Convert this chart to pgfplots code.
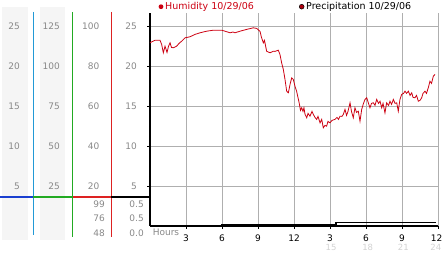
\documentclass[border=0pt]{standalone}
\usepackage{fontspec}
\setmainfont{DejaVu Sans}
\usepackage{pgfplots}
\pgfplotsset{compat=1.18}
\definecolor{hum}{RGB}{204,0,17}
\definecolor{lblgray}{RGB}{136,136,136}
\definecolor{ltgray}{RGB}{210,210,210}
\definecolor{bggray}{RGB}{245,245,245}
\definecolor{gridgray}{RGB}{175,175,175}
\definecolor{tealblue}{RGB}{34,153,214}
\definecolor{bluel}{RGB}{26,63,208}
\definecolor{greenl}{RGB}{34,170,34}
\definecolor{redl}{RGB}{221,34,34}
\begin{document}
\begin{tikzpicture}[x=1pt,y=1pt,font=\fontsize{9}{10}\selectfont]
\useasboundingbox (0,0) rectangle (442,-253);
% left panel backgrounds
\fill[bggray] (2,-7) rectangle (28,-240);
\fill[bggray] (40,-7) rectangle (65,-240);
% vertical panel lines
\draw[tealblue, line width=1pt] (33,-12) -- (33,-235);
\draw[greenl, line width=1pt] (72.7,-12) -- (72.7,-237);
\draw[redl, line width=1pt] (111,-12) -- (111,-237);
% horizontal coloured line
\draw[bluel, line width=2pt] (0,-197) -- (33,-197);
\draw[greenl, line width=2pt] (33,-197) -- (72.7,-197);
\draw[redl, line width=2pt] (72.7,-197) -- (111,-197);
\draw[black, line width=2pt] (111,-197) -- (150,-197);
% column labels
\begin{scope}[every node/.style={inner sep=0pt, anchor=east, text=lblgray}]
\node at (20,-26.3) {25}; \node at (20,-65.8) {20}; \node at (20,-106.3) {15}; \node at (20,-146.3) {10}; \node at (20,-186.3) {5};
\node at (60,-26.3) {125}; \node at (60,-65.8) {100}; \node at (60,-106.3) {75}; \node at (60,-146.3) {50}; \node at (60,-186.3) {25};
\node at (99.5,-26.3) {100}; \node at (99.5,-65.8) {80}; \node at (99.5,-106.3) {60}; \node at (99.5,-146.3) {40}; \node at (99.5,-186.3) {20};
\node at (137,-26.3) {25}; \node at (137,-65.8) {20}; \node at (137,-106.3) {15}; \node at (137,-146.3) {10}; \node at (137,-186.3) {5};
\node at (105,-204.7) {99}; \node at (105,-218.7) {76}; \node at (105,-232.8) {48};
\node at (144,-204.7) {0.5}; \node at (144,-218.7) {0.5}; \node at (144,-232.8) {0.0};
\end{scope}
% legend
\fill[hum] (161,-6.7) circle (2.4pt);
\node[inner sep=0pt, anchor=base west, text=hum, font=\fontsize{9.5}{10}\selectfont] at (165,-9.8) {Humidity 10/29/06};
\filldraw[fill=hum!85!black, draw=black, line width=0.5pt] (301.7,-6.7) circle (2.4pt);
\node[inner sep=0pt, anchor=base west, font=\fontsize{9.5}{10}\selectfont] at (306,-9.8) {Precipitation 10/29/06};
% extra x labels
\node[inner sep=0pt, text=lblgray] at (166,-232.7) {Hours};
\begin{scope}[every node/.style={inner sep=0pt, text=ltgray, font=\fontsize{8.5}{9}\selectfont}]
\node at (331,-247) {15}; \node at (367.7,-247) {18}; \node at (403.3,-247) {21}; \node[anchor=east] at (441.5,-247) {24};
\end{scope}
\begin{axis}[
  at={(150pt,-226pt)}, anchor=south west,
  scale only axis, width=288pt, height=213pt,
  xmin=0, xmax=24, ymin=0, ymax=106.5,
  axis lines*=left,
  axis line style={black, line width=1.2pt},
  xtick={3,6,...,24}, xticklabels={3,6,9,12,3,6,9,\hspace*{-3pt}12},
  ytick={20,40,60,80,100}, yticklabels={},
  xmajorgrids, ymajorgrids,
  grid style={gridgray, line width=0.7pt},
  tick align=outside, major tick length=3pt,
  tick style={black, line width=0.8pt},
  xticklabel style={font=\fontsize{9}{10}\selectfont, yshift=-2pt},
  /pgf/number format/assume math mode=true,
  clip=false,
]
\addplot[hum, line width=0.8pt] table {
x y
0.00 91.6
0.42 92.9
0.83 92.9
0.97 90.8
1.11 86.6
1.25 89.9
1.42 86.8
1.54 89.8
1.67 91.6
1.79 89.3
1.94 89.1
2.22 89.9
2.42 91.3
2.64 92.4
2.92 94.1
3.33 94.6
3.75 95.8
4.17 96.6
4.72 97.4
5.28 97.9
5.97 97.9
6.25 97.4
6.67 96.6
6.92 97.0
7.08 96.6
7.50 97.4
8.06 98.3
8.61 99.1
8.89 98.8
9.17 97.3
9.29 94.3
9.44 91.6
9.54 92.8
9.72 87.4
10.00 86.6
10.28 87.4
10.42 87.3
10.69 87.9
10.83 85.8
10.97 81.6
11.11 78.3
11.25 73.3
11.39 67.4
11.53 66.6
11.67 70.8
11.81 74.1
11.94 73.3
12.08 69.9
12.22 67.3
12.33 64.3
12.44 61.3
12.54 57.8
12.64 59.1
12.75 57.3
12.83 59.1
12.92 55.8
13.06 54.1
13.17 56.3
13.33 54.9
13.50 57.3
13.61 55.8
13.75 54.3
13.89 53.3
14.00 54.8
14.17 51.6
14.31 53.3
14.44 49.1
14.58 50.3
14.72 49.9
14.83 52.3
15.00 51.6
15.17 52.8
15.42 53.3
15.58 54.3
15.71 53.3
15.83 54.9
16.00 54.8
16.11 55.8
16.25 58.3
16.38 55.3
16.50 57.3
16.67 61.6
16.79 57.3
16.94 54.1
17.08 59.1
17.21 56.8
17.36 57.4
17.50 52.4
17.64 58.3
17.79 61.3
17.92 63.3
18.06 64.1
18.21 61.3
18.33 59.1
18.46 61.3
18.61 61.6
18.75 60.3
18.89 63.3
19.04 61.3
19.17 62.4
19.31 59.1
19.42 61.3
19.58 56.6
19.72 61.6
19.88 60.3
20.00 62.4
20.13 60.8
20.28 63.3
20.42 61.3
20.56 61.6
20.69 57.4
20.83 63.3
20.97 65.8
21.13 66.3
21.25 67.4
21.38 66.3
21.53 67.4
21.67 65.3
21.81 66.6
21.92 64.3
22.08 64.1
22.21 65.3
22.36 62.4
22.50 62.8
22.64 64.1
22.75 66.3
22.92 67.4
23.04 66.3
23.19 69.1
23.33 72.4
23.46 71.3
23.61 74.9
23.75 75.8
};
\end{axis}
\begin{axis}[
  at={(150pt,-226pt)}, anchor=south west,
  scale only axis, width=288pt, height=213pt,
  xmin=0, xmax=24, ymin=0, ymax=3.672,
  hide axis, clip=false,
]
\addplot[black, line width=1.3pt, const plot] coordinates {(0,0) (6,0.025) (15.5,0.065) (23.8,0.065)};
\end{axis}
\end{tikzpicture}
\end{document}
